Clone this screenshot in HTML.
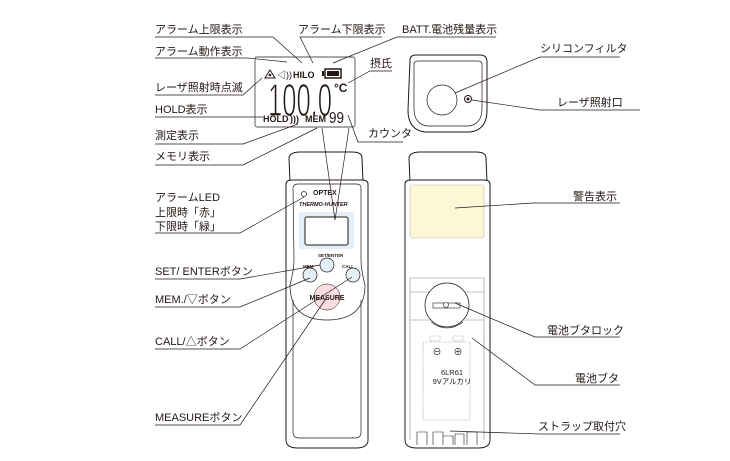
<!DOCTYPE html>
<html><head><meta charset="utf-8"><style>
html,body{margin:0;padding:0;background:#fff;}
svg{display:block}
text{font-family:"Liberation Sans","Noto Sans CJK JP",sans-serif;fill:#231815}
.l{font-size:11px}
.ln{stroke:#231815;stroke-width:0.7;fill:none}
.o{stroke:#231815;stroke-width:1}
</style></head><body>
<svg width="730" height="461" viewBox="0 0 730 461" xmlns="http://www.w3.org/2000/svg">
<!-- LEFT DEVICE -->
<path d="M290 182 L289 158 Q290 152 300 152 L352 152 Q362 152 362 158 L363 182 Z" class="o" style="fill:#fff"/>
<path d="M286 184 Q286 180 292 180 L362 180 Q368 180 368 184 L368 440 Q368 448 356 448 L298 448 Q286 448 286 440 Z" class="o" style="fill:#fff"/>
<path d="M293 188 Q293 184 298 184 L356 184 Q361 184 361 188 L361 260 Q361 270 365 285 Q365 320 327 320 Q290 320 290 285 Q294 270 294 260 Z" style="stroke:#231815;stroke-width:0.7;fill:none"/>
<path d="M293 300 L293 432 Q293 438 299 438 L355 438 Q361 438 361 432 L361 300" style="stroke:#231815;stroke-width:0.7;fill:none"/>
<circle cx="304" cy="194" r="2.5" class="ln"/>
<text x="313" y="195" style="font-size:7px;font-weight:bold">OPTEX</text>
<text x="299" y="206" style="font-size:5.5px;font-style:italic;font-weight:bold">THERMO-HUNTER</text>
<rect x="299" y="212" width="55" height="37" rx="2" style="fill:#e3f0fa"/>
<rect x="305" y="217" width="43" height="28" rx="2" style="fill:#fff;stroke:#231815;stroke-width:1"/>
<text x="318" y="257" style="font-size:4.5px;font-weight:bold">SET/ENTER</text>
<text x="303" y="268" style="font-size:4.5px;font-weight:bold">MEM</text>
<text x="342" y="268" style="font-size:4.5px;font-weight:bold">CALL</text>
<circle cx="327" cy="265" r="7" style="fill:#e3f0fa;stroke:#231815;stroke-width:0.7"/>
<circle cx="310" cy="275" r="7" style="fill:#e3f0fa;stroke:#231815;stroke-width:0.7"/>
<circle cx="353" cy="275" r="7" style="fill:#e3f0fa;stroke:#231815;stroke-width:0.7"/>
<circle cx="327" cy="297" r="13" style="fill:#f9dde0;stroke:#231815;stroke-width:0.5"/>
<text x="327" y="300" text-anchor="middle" style="font-size:7px;font-weight:bold">MEASURE</text>

<!-- RIGHT DEVICE -->
<path d="M410 182 L409 158 Q410 152 420 152 L476 152 Q486 152 486 158 L487 182 Z" class="o" style="fill:#fff"/>
<path d="M405 184 Q405 180 411 180 L484 180 Q490 180 490 184 L490 440 Q490 448 478 448 L417 448 Q405 448 405 440 Z" class="o" style="fill:#fff"/>
<rect x="410" y="185" width="74" height="53" rx="2" style="fill:#fdf7d5;stroke:#bbb;stroke-width:0.6"/>
<path d="M410 278 L484 278 M410 292 L484 292 M410 320 L484 320 M410 278 L410 440 M484 278 L484 440" style="stroke:#888;stroke-width:0.6;fill:none"/>
<circle cx="447" cy="305" r="22" style="fill:#fff;stroke:#231815;stroke-width:0.7"/>
<rect x="433" y="303" width="27" height="5" style="fill:#fff;stroke:#231815;stroke-width:0.6"/>
<circle cx="446" cy="305" r="2.5" style="fill:#fff;stroke:#231815;stroke-width:0.6"/>
<path d="M431 322 Q447 334 463 322" style="stroke:#231815;stroke-width:0.6;fill:none"/>
<rect x="423" y="342" width="47" height="78" style="fill:none;stroke:#999;stroke-width:0.6;stroke-dasharray:1.5 1"/>
<rect x="430" y="336" width="10" height="5" style="fill:none;stroke:#999;stroke-width:0.6;stroke-dasharray:1.5 1"/>
<rect x="453" y="336" width="10" height="5" style="fill:none;stroke:#999;stroke-width:0.6;stroke-dasharray:1.5 1"/>
<text x="437" y="355" text-anchor="middle" style="font-size:9px">⊖</text>
<text x="458" y="355" text-anchor="middle" style="font-size:9px">⊕</text>
<text x="452" y="375" text-anchor="middle" style="font-size:7.5px">6LR61</text>
<text x="452" y="384" text-anchor="middle" style="font-size:7.5px">9Vアルカリ</text>
<path d="M417 445 V432 H427 V445 M433 445 V432 H443 V445 M443 445 V436 H453 V445 M455 445 V434 H464 V445 M467 445 V432 H477 V445" style="stroke:#231815;stroke-width:0.6;fill:none"/>

<!-- SENSOR HEAD -->
<path d="M410 60 Q410 55 416 55 L480 55 Q487 55 487 62 L487 110 Q487 130 470 132 L425 132 Q408 130 408 110 Z" class="o" style="fill:#fff"/>
<path d="M414 64 Q414 61 418 61 L478 61 Q482 61 482 64 L482 108 Q482 125 468 126 L428 126 Q414 125 414 108 Z" style="stroke:#231815;stroke-width:0.7;fill:none"/>
<circle cx="442" cy="100" r="15" class="ln"/>
<circle cx="468" cy="99" r="3.5" style="stroke:#231815;stroke-width:1;fill:#fff"/>
<circle cx="468" cy="99" r="1.5" style="fill:#231815"/>

<!-- LCD -->
<rect x="255" y="57" width="100" height="70" rx="2" class="ln"/>
<path d="M265 78 L270 70 L275 78 Z" style="stroke:#231815;stroke-width:1;fill:none"/><circle cx="270" cy="75" r="1.3" style="fill:#231815"/>
<text x="277" y="78" style="font-size:9px">◁))</text>
<text x="293" y="78" style="font-size:9px;font-weight:bold">HILO</text>
<rect x="325" y="69" width="16" height="9" style="fill:#fff;stroke:#231815;stroke-width:1.5"/><rect x="327" y="71" width="12" height="5" style="fill:#231815"/><rect x="322" y="71" width="2" height="5" style="fill:#231815"/>
<text x="268" y="116" textLength="64" lengthAdjust="spacingAndGlyphs" style="font-size:46px;font-weight:normal;stroke:#fff;stroke-width:1.2;paint-order:normal">100.0</text>
<text x="334" y="92" style="font-size:12px;font-weight:bold">°C</text>
<text x="263" y="122" style="font-size:9px;font-weight:bold">HOLD</text>
<text x="290" y="122" style="font-size:9px;font-weight:bold">)))</text>
<text x="305" y="122" style="font-size:9px;font-weight:bold">MEM</text>
<text x="329" y="123" textLength="15" lengthAdjust="spacingAndGlyphs" style="font-size:16px">99</text>

<!-- LABELS -->
<g class="l">
<text x="155" y="33">アラーム上限表示</text>
<text x="298" y="33">アラーム下限表示</text>
<text x="402" y="33">BATT.電池残量表示</text>
<text x="155" y="55">アラーム動作表示</text>
<text x="155" y="91">レーザ照射時点滅</text>
<text x="155" y="113">HOLD表示</text>
<text x="155" y="139">測定表示</text>
<text x="155" y="160">メモリ表示</text>
<text x="370" y="67">摂氏</text>
<text x="368" y="137">カウンタ</text>
<text x="540" y="52">シリコンフィルタ</text>
<text x="557" y="106">レーザ照射口</text>
<text x="155" y="201">アラームLED</text>
<text x="155" y="216">上限時「赤」</text>
<text x="155" y="230">下限時「緑」</text>
<text x="155" y="275">SET/ ENTERボタン</text>
<text x="155" y="303">MEM./▽ボタン</text>
<text x="155" y="345">CALL/△ボタン</text>
<text x="155" y="421">MEASUREボタン</text>
<text x="573" y="200">警告表示</text>
<text x="547" y="334">電池ブタロック</text>
<text x="575" y="382">電池ブタ</text>
<text x="538" y="430">ストラップ取付穴</text>
</g>

<g class="ln">
<polyline points="155,37 273,37 302,63"/>
<polyline points="382,37 300,37 313,63"/>
<polyline points="496,37 397,37 333,63"/>
<polyline points="155,58 247,58 287,62"/>
<polyline points="155,95 243,95 262,78"/>
<polyline points="155,117 263,117"/>
<polyline points="155,144 243,144 298,124"/>
<polyline points="155,165 243,165 317,128"/>
<polyline points="392,71 370,71 348,83"/>
<polyline points="403,142 358,142 348,115"/>
<polyline points="322,128 335,220 349,128"/>
<polyline points="620,57 540,57 455,93"/>
<polyline points="640,110 540,110 472,100"/>
<polyline points="155,233 240,233 304,197"/>
<polyline points="155,279 240,279 320,265"/>
<polyline points="155,307 240,307 310,278"/>
<polyline points="155,349 240,349 352,277"/>
<polyline points="155,425 240,425 327,297"/>
<polyline points="620,203 533,203 455,208"/>
<polyline points="620,337 535,337 455,303"/>
<polyline points="620,385 535,385 472,338"/>
<polyline points="620,434 540,434 450,431"/>
</g>
</svg>
</body></html>
